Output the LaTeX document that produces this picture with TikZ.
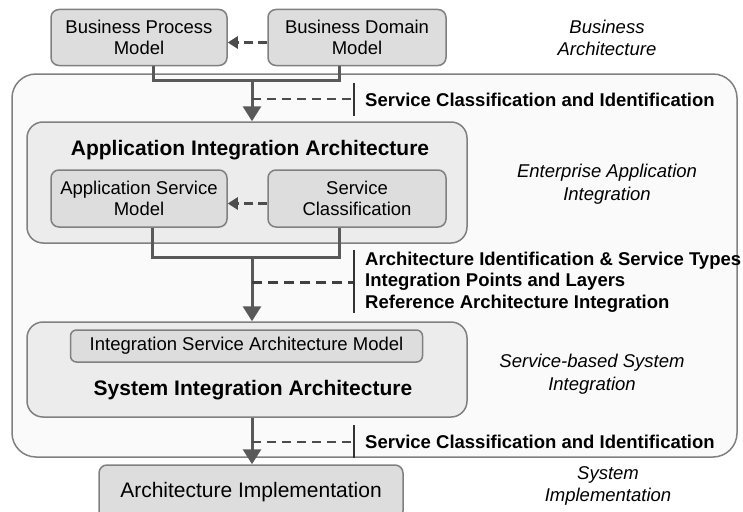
\documentclass[tikz,border=0pt]{standalone}
\usepackage{fontspec}
\setmainfont{Liberation Sans}
\usetikzlibrary{arrows.meta}

\newcommand\txtsize{\fontsize{18.5}{21}\selectfont}
\newcommand\ttlsize{\fontsize{21}{24}\selectfont}

\tikzset{
    box/.style={draw=gray, line width=1.5pt, fill=gray!27, rounded corners=8pt,
        align=center, inner sep=0pt, font=\txtsize},
    layer/.style={draw=gray, line width=1.5pt, fill=gray!15, rounded corners=16pt, inner sep=0pt},
    region/.style={draw=gray, line width=1.5pt, fill=gray!4, rounded corners=24pt, inner sep=0pt},
    conn/.style={draw=black!65, line width=3pt},
    flow/.style={conn, -{Triangle[width=18pt,length=15pt]}},
    hint/.style={draw=black!70, line width=3pt, dash pattern=on 9pt off 5pt,
        -{Triangle[width=12pt,length=10pt]}},
    thinnote/.style={draw=black!70, line width=1.5pt, dash pattern=on 9pt off 6pt},
    thicknote/.style={draw=black!75, line width=3pt, dash pattern=on 10pt off 6pt},
    bar/.style={draw=black!80, line width=2pt},
    tag/.style={anchor=west, align=left, inner sep=0pt, font=\bfseries\txtsize},
    side/.style={align=center, font=\itshape\fontsize{18.5}{22.5}\selectfont}
}

\begin{document}
\begin{tikzpicture}[x=1pt, y=-1pt]
    \useasboundingbox (0,0) rectangle (743,511);

    % outer region and the two layers
    \node[region, minimum width=725pt, minimum height=383pt] (eai) at (374.5,265.5) {};
    \node[layer, minimum width=440pt, minimum height=121pt] (aia) at (247,182.5) {};
    \node[layer, minimum width=440pt, minimum height=95pt] (sia) at (247,369.5) {};

    % boxes
    \node[box, minimum width=176pt, minimum height=56pt] (bpm) at (139,37.5) {Business Process\\Model};
    \node[box, minimum width=178pt, minimum height=56pt] (bdm) at (357,37.5) {Business Domain\\Model};
    \node[box, minimum width=176pt, minimum height=57pt] (asm) at (139,198.5) {Application Service\\Model};
    \node[box, minimum width=178pt, minimum height=57pt] (sc) at (357,198.5) {Service\\Classification};
    \node[box, rounded corners=6pt, minimum width=352pt, minimum height=32pt] (isam) at (246.5,346) {Integration Service Architecture Model};
    \node[box, minimum width=304pt, minimum height=54pt, font=\fontsize{21}{24}\selectfont] (ai) at (251,492) {Architecture Implementation};

    % layer titles
    \node[font=\bfseries\ttlsize] (aiattl) at (250,150) {Application Integration Architecture};
    \node[font=\bfseries\ttlsize] (siattl) at (253,390) {System Integration Architecture};

    % side labels
    \node[side] (ba) at (607,38) {Business\\Architecture};
    \node[side] (eaiint) at (607,184) {Enterprise Application\\Integration};
    \node[side] (sbsi) at (592,374) {Service-based System\\Integration};
    \node[side] (simpl) at (608,486) {System\\Implementation};

    % dashed arrows between boxes
    \draw[hint] ([yshift=-5pt]bdm.west) -- ([yshift=-5pt]bpm.east);
    \draw[hint] ([yshift=-5pt]sc.west) -- ([yshift=-5pt]asm.east);

    % main flow
    \coordinate (m1) at (252,80);
    \coordinate (m2) at (252,257);
    \draw[conn] ([xshift=14pt]bpm.south) |- (m1) -| ([xshift=-18pt]bdm.south);
    \draw[flow] (m1) -- (m1 |- aia.north);
    \draw[conn] ([xshift=13pt]asm.south) |- (m2) -| ([xshift=-18pt]sc.south);
    \draw[flow] (m2) -- (m2 |- sia.north);
    \draw[flow] (sia.south -| m2) -- (ai.north -| m2);

    % notes
    \coordinate (t1) at (354,99);
    \coordinate (t2) at (354,282);
    \coordinate (t3) at (354,442);
    \draw[thinnote] (m1 |- t1) -- (t1);
    \draw[thicknote] (m2 |- t2) -- (t2);
    \draw[thinnote] (m2 |- t3) -- (t3);
    \draw[bar] ([yshift=16pt]t1) -- ([yshift=-17pt]t1);
    \draw[bar] ([yshift=32pt]t2) -- ([yshift=-31pt]t2);
    \draw[bar] ([yshift=17pt]t3) -- ([yshift=-16pt]t3);
    \node[tag] (t1txt) at ([xshift=11pt,yshift=-1pt]t1) {Service Classification and Identification};
    \node[tag, font=\bfseries\fontsize{18.5}{21.5}\selectfont] (t2txt) at ([xshift=11pt]t2)
        {Architecture Identification \& Service Types\\Integration Points and Layers\\Reference Architecture Integration};
    \node[tag] (t3txt) at ([xshift=11pt]t3) {Service Classification and Identification};
\end{tikzpicture}
\end{document}
